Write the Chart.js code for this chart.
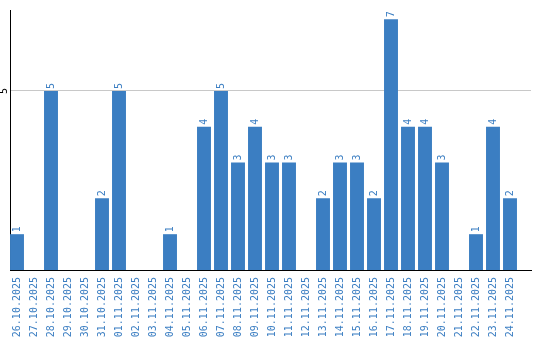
<!DOCTYPE html>
<html>
<head>
<meta charset="utf-8">
<script src="https://cdn.jsdelivr.net/npm/chart.js@4"></script>
<style>
  html, body { margin: 0; padding: 0; background: #fff; }
  #wrap { width: 540px; height: 340px; }
</style>
</head>
<body>
<div id="wrap"><canvas id="bars"></canvas></div>
<script>
// dates + counts
var days = ['26.10.2025','27.10.2025','28.10.2025','29.10.2025','30.10.2025','31.10.2025',
  '01.11.2025','02.11.2025','03.11.2025','04.11.2025','05.11.2025','06.11.2025','07.11.2025',
  '08.11.2025','09.11.2025','10.11.2025','11.11.2025','12.11.2025','13.11.2025','14.11.2025',
  '15.11.2025','16.11.2025','17.11.2025','18.11.2025','19.11.2025','20.11.2025','21.11.2025',
  '22.11.2025','23.11.2025','24.11.2025'];
var counts = [1,0,5,0,0,2,5,0,0,1,0,4,5,3,4,3,3,0,2,3,3,2,7,4,4,3,0,1,4,2];
var yTicks = [5];

var blue = '#3b7ec2';
var monoFont = '10px "DejaVu Sans Mono", monospace';

// value labels above bars + rotated y tick label
var barLabels = {
  id: 'barLabels',
  afterDatasetsDraw: function(chart) {
    var ctx = chart.ctx;
    var meta = chart.getDatasetMeta(0);
    ctx.save();
    ctx.font = monoFont;
    ctx.fillStyle = blue;
    ctx.textAlign = 'left';
    ctx.textBaseline = 'middle';
    meta.data.forEach(function(bar, i) {
      if (!counts[i]) return;
      ctx.save();
      ctx.translate(bar.x, bar.y - 2);
      ctx.rotate(-Math.PI / 2);
      ctx.fillText(String(counts[i]), 0, 0);
      ctx.restore();
    });
    // y tick text, rotated like the reference
    var ys = chart.scales.y;
    ctx.fillStyle = '#000';
    ctx.textAlign = 'center';
    yTicks.forEach(function(v) {
      ctx.save();
      ctx.translate(ys.left + 4.5, ys.getPixelForValue(v));
      ctx.rotate(-Math.PI / 2);
      ctx.fillText(String(v), 0, 0);
      ctx.restore();
    });
    ctx.restore();
  }
};

var chart = new Chart(document.getElementById('bars'), {
  type: 'bar',
  data: {
    labels: days,
    datasets: [{
      data: counts,
      backgroundColor: blue,
      borderWidth: 0,
      barPercentage: 0.82,
      categoryPercentage: 1.0
    }]
  },
  options: {
    responsive: true,
    maintainAspectRatio: false,
    animation: false,
    layout: { padding: { top: 10, right: 9, left: 0, bottom: 0 } },
    plugins: { legend: { display: false }, tooltip: { enabled: false } },
    scales: {
      x: {
        grid: { display: false, drawTicks: false },
        border: { color: '#000', width: 1 },
        ticks: {
          autoSkip: false,
          minRotation: 90,
          maxRotation: 90,
          padding: 7,
          color: blue,
          font: { family: '"DejaVu Sans Mono", monospace', size: 10 }
        },
        // original packs the days at 17px steps and leaves a strip free on the right
        afterBuildTicks: function(s) {
          s._startValue = -7 / 17;
          s._valueRange = 521 / 17;
        },
        afterFit: function(s) { s.height = 70; }
      },
      y: {
        min: 0,
        max: 7.26,
        border: { color: '#000', width: 1 },
        grid: { color: '#c8c8c8', drawTicks: false },
        ticks: { display: false },
        afterBuildTicks: function(s) {
          s.ticks = yTicks.map(function(v) { return { value: v }; });
        },
        afterFit: function(s) { s.width = 10; }
      }
    }
  },
  plugins: [barLabels]
});
</script>
</body>
</html>
